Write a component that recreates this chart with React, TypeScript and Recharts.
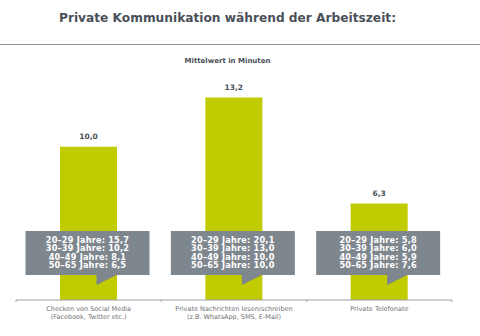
import React from "react";
import { BarChart, Bar, XAxis, YAxis, LabelList } from "recharts";

const categoryLine1 = ["Checken von Social Media", "Private Nachrichten lesen/schreiben", "Private Telefonate"];
const categoryLine2 = ["(Facebook, Twitter etc.)", "(z.B. WhatsApp, SMS, E-Mail)", ""];
const meanMinutes = [10.0, 13.2, 6.3];
const ageGroups = ["20–29 Jahre", "30–39 Jahre", "40–49 Jahre", "50–65 Jahre"];
const age20to29 = [15.7, 20.1, 5.8];
const age30to39 = [10.2, 13.0, 6.0];
const age40to49 = [8.1, 10.0, 5.9];
const age50to65 = [6.5, 10.0, 7.6];

const ageSeries = [age20to29, age30to39, age40to49, age50to65];

const data = categoryLine1.map((name, i) => ({
  name,
  idx: i,
  value: meanMinutes[i],
}));

const FONT = "'DejaVu Sans', Verdana, sans-serif";
const DARK = "#4a5059";
const LIME = "#c0cb00";
const BOX = "#7f878e";
const LABEL = "#707275";

const fmt = (v: number) => v.toFixed(1).replace(".", ",");

const CategoryTick = (props: any) => {
  const { x, y, payload, index } = props;
  const half = payload && payload.offset ? payload.offset : 72.7;
  const i = typeof index === "number" ? index : categoryLine1.indexOf(payload.value);
  const cx = x;
  return (
    <g>
      <line x1={cx - half} x2={cx - half} y1={y} y2={y + 2} stroke="#9aa0a4" />
      {i === categoryLine1.length - 1 && (
        <line x1={cx + half} x2={cx + half} y1={y} y2={y + 2} stroke="#9aa0a4" />
      )}
      <text x={cx} y={y + 9} textAnchor="middle" dominantBaseline="central" fontFamily={FONT} fontSize={6.5} fill={LABEL}>
        {categoryLine1[i]}
      </text>
      <text x={cx} y={y + 17} textAnchor="middle" dominantBaseline="central" fontFamily={FONT} fontSize={6.5} fill={LABEL}>
        {categoryLine2[i]}
      </text>
    </g>
  );
};

const Callout = (props: any) => {
  const { x, y, width, height, value } = props;
  const i = typeof value === "number" ? value : Number(value);
  const cx = x + width / 2;
  const base = y + height;
  const bw = 124;
  const left = cx - bw / 2 - 1;
  const top = base - 69;
  const bottom = base - 25;
  const px = cx + 8;
  const path = `M${left},${top} H${left + bw} V${bottom} H${cx + 28} L${px},${base - 15} V${bottom} H${left} Z`;
  return (
    <g>
      <path d={path} fill={BOX} />
      {ageGroups.map((g, k) => (
        <text
          key={k}
          x={left + bw / 2}
          y={top + 8.5 + k * 8.5}
          textAnchor="middle"
          dominantBaseline="central"
          fontFamily={FONT}
          fontWeight="bold"
          fontSize={8.2}
          letterSpacing={0.2}
          fill="#ffffff"
        >
          {`${g}: ${fmt(ageSeries[k][i])}`}
        </text>
      ))}
    </g>
  );
};

const ValueLabel = (props: any) => {
  const { x, y, width, value } = props;
  return (
    <text x={x + width / 2} y={y - 10} textAnchor="middle" dominantBaseline="central" fontFamily={FONT} fontWeight="bold" fontSize={7.5} fill={DARK}>
      {fmt(Number(value))}
    </text>
  );
};

export default function App() {
  return (
    <div style={{ position: "absolute", left: 0, top: 0, width: 480, height: 336, background: "#fff", overflow: "hidden" }}>
      <div
        style={{
          position: "absolute",
          left: 0,
          width: 455,
          top: 10,
          textAlign: "center",
          fontFamily: FONT,
          fontWeight: "bold",
          fontSize: 12.2,
          color: DARK,
          lineHeight: "16px",
        }}
      >
        Private Kommunikation während der Arbeitszeit:
      </div>
      <div style={{ position: "absolute", left: 0, width: 480, top: 44, height: 0, borderTop: "1.5px solid #8a949a" }} />
      <div
        style={{
          position: "absolute",
          left: 0,
          width: 455,
          top: 56,
          textAlign: "center",
          fontFamily: FONT,
          fontWeight: "bold",
          fontSize: 7,
          color: DARK,
          lineHeight: "10px",
        }}
      >
        Mittelwert in Minuten
      </div>
      <div style={{ position: "absolute", left: 0, top: 0 }}>
        <BarChart width={480} height={336} data={data} margin={{ top: 70, right: 28, bottom: 6, left: 16 }}>
          <YAxis hide domain={[0, 15]} />
          <XAxis
            dataKey="name"
            height={30}
            tickLine={false}
            tickSize={0}
            tickMargin={0}
            axisLine={{ stroke: "#9aa0a4" }}
            tick={<CategoryTick />}
            interval={0}
          />
          <Bar dataKey="value" fill={LIME} barSize={57} isAnimationActive={false}>
            <LabelList dataKey="value" content={<ValueLabel />} />
            <LabelList dataKey="idx" content={<Callout />} />
          </Bar>
        </BarChart>
      </div>
    </div>
  );
}
